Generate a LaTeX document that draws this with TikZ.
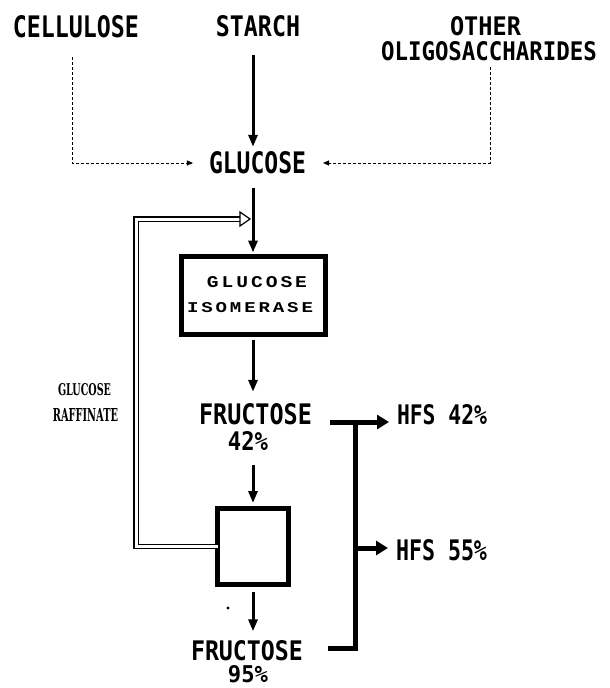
\documentclass[tikz,border=0pt]{standalone}
\usepackage{fontspec}
\usepackage{graphicx}
\usetikzlibrary{arrows.meta,calc}
\newfontfamily\lblfont{DejaVu Sans Mono}
\newfontfamily\boxfont{Liberation Mono}[LetterSpace=15]
\newfontfamily\smallfont{DejaVu Serif}
\newcommand\lbl[3]{\resizebox{#1pt}{#2pt}{\lblfont\bfseries #3}}
\newcommand\boxlbl[3]{\resizebox{#1pt}{#2pt}{\boxfont\bfseries #3}}
\newcommand\smalllbl[3]{\resizebox{#1pt}{#2pt}{\smallfont\bfseries #3}}
\begin{document}
\begin{tikzpicture}[x=1pt,y=-1pt,
  every node/.style={inner sep=0pt, outer sep=0pt},
  solidarrow/.style={line width=3pt, -{Triangle[length=12pt,width=9pt]}},
  dashline/.style={line width=0.9pt, dash pattern=on 3pt off 2pt, -{Triangle[length=6pt,width=5pt]}},
  bigarrow/.style={line width=5pt, -{Triangle[length=12pt,width=14pt]}},
  bracketline/.style={line width=5pt, line join=miter},
  procbox/.style={draw, line width=5pt},
  recycle/.style={double=white, double distance=3pt, line width=1.3pt}]
\useasboundingbox[fill=white] (0,0) rectangle (610,688);

% labels
\node (cell) at (76,27) {\lbl{126}{22}{CELLULOSE}};
\node (starch) at (258,26.5) {\lbl{84}{21}{STARCH}};
\node (other) at (485.5,26) {\lbl{71}{19}{OTHER}};
\node (olig) at (489,51) {\lbl{216}{19}{OLIGOSACCHARIDES}};
\node (glucose) at (257.5,163) {\lbl{97}{22}{GLUCOSE}};

\node[procbox, minimum width=144pt, minimum height=78pt] (box1) at (253.5,295.5) {};
\node (bx1a) at (257,282.5) {\boxlbl{100}{11}{GLUCOSE}};
\node (bx1b) at (250,308) {\boxlbl{126}{10}{ISOMERASE}};

\node (fru1) at (255.5,414.5) {\lbl{113}{21}{FRUCTOSE}};
\node (p42) at (248,440.5) {\lbl{40}{19}{42\%}};

\node[procbox, minimum width=71pt, minimum height=76pt] (box2) at (253,546.5) {};

\node (fru2) at (247,650.5) {\lbl{112}{20}{FRUCTOSE}};
\node (p95) at (248,674) {\lbl{40}{17}{95\%}};

\node (hfs42) at (442,415) {\lbl{90}{20}{HFS 42\%}};
\node (hfs55) at (441.5,550) {\lbl{91}{21}{HFS 55\%}};

\node (raff1) at (84.5,389.5) {\smalllbl{53}{12}{GLUCOSE}};
\node (raff2) at (85.5,414.5) {\smalllbl{65}{13}{RAFFINATE}};

% helper coordinates
\coordinate (axis) at (253,0);
\coordinate (dl) at (72,0);
\coordinate (dr) at (490,0);
\coordinate (rx) at (136,0);
\coordinate (rtop) at (242,219);
\coordinate (b1) at (330,422);
\coordinate (bc) at (355,422);
\coordinate (bb) at (355,648);
\coordinate (b2) at (328,648);
\coordinate (bm) at (355,548);

% main arrows
\draw[solidarrow, shorten <=18pt, shorten >=5pt] (starch.south -| axis) -- (glucose.north -| axis);
\draw[solidarrow, shorten <=14pt, shorten >=4pt] (glucose.south -| axis) -- (box1.north -| axis);
\draw[solidarrow, shorten <=5pt, shorten >=12pt] (box1.south -| axis) -- (fru1.north -| axis);
\draw[solidarrow, shorten <=15pt, shorten >=5.5pt] (p42.south -| axis) -- (box2.north -| axis);
\draw[solidarrow, shorten <=7.5pt, shorten >=9pt] (box2.south -| axis) -- (fru2.north -| axis);

% dashed feeds
\draw[dashline, shorten <=19pt, shorten >=16pt] (cell.south -| dl) |- (glucose.west);
\draw[dashline, shorten <=6pt, shorten >=17pt] (olig.south -| dr) |- (glucose.east);

% recycle
\draw[recycle] (box2.west) -- (box2.west -| rx) -- (rx |- rtop) -- (rtop);
\draw[line width=1.2pt, fill=white] (240,212) -- (250,219) -- (240,226) -- cycle;

% bracket and products
\draw[bracketline] (b1) -- (bc) -- (bb) -- (b2);
\draw[bigarrow, shorten >=8pt] (bc) -- (bc -| hfs42.west);
\draw[bigarrow, shorten <=2pt, shorten >=8pt] (bm) -- (bm -| hfs55.west);

\fill (228,608) circle (1.6pt);
\end{tikzpicture}
\end{document}
